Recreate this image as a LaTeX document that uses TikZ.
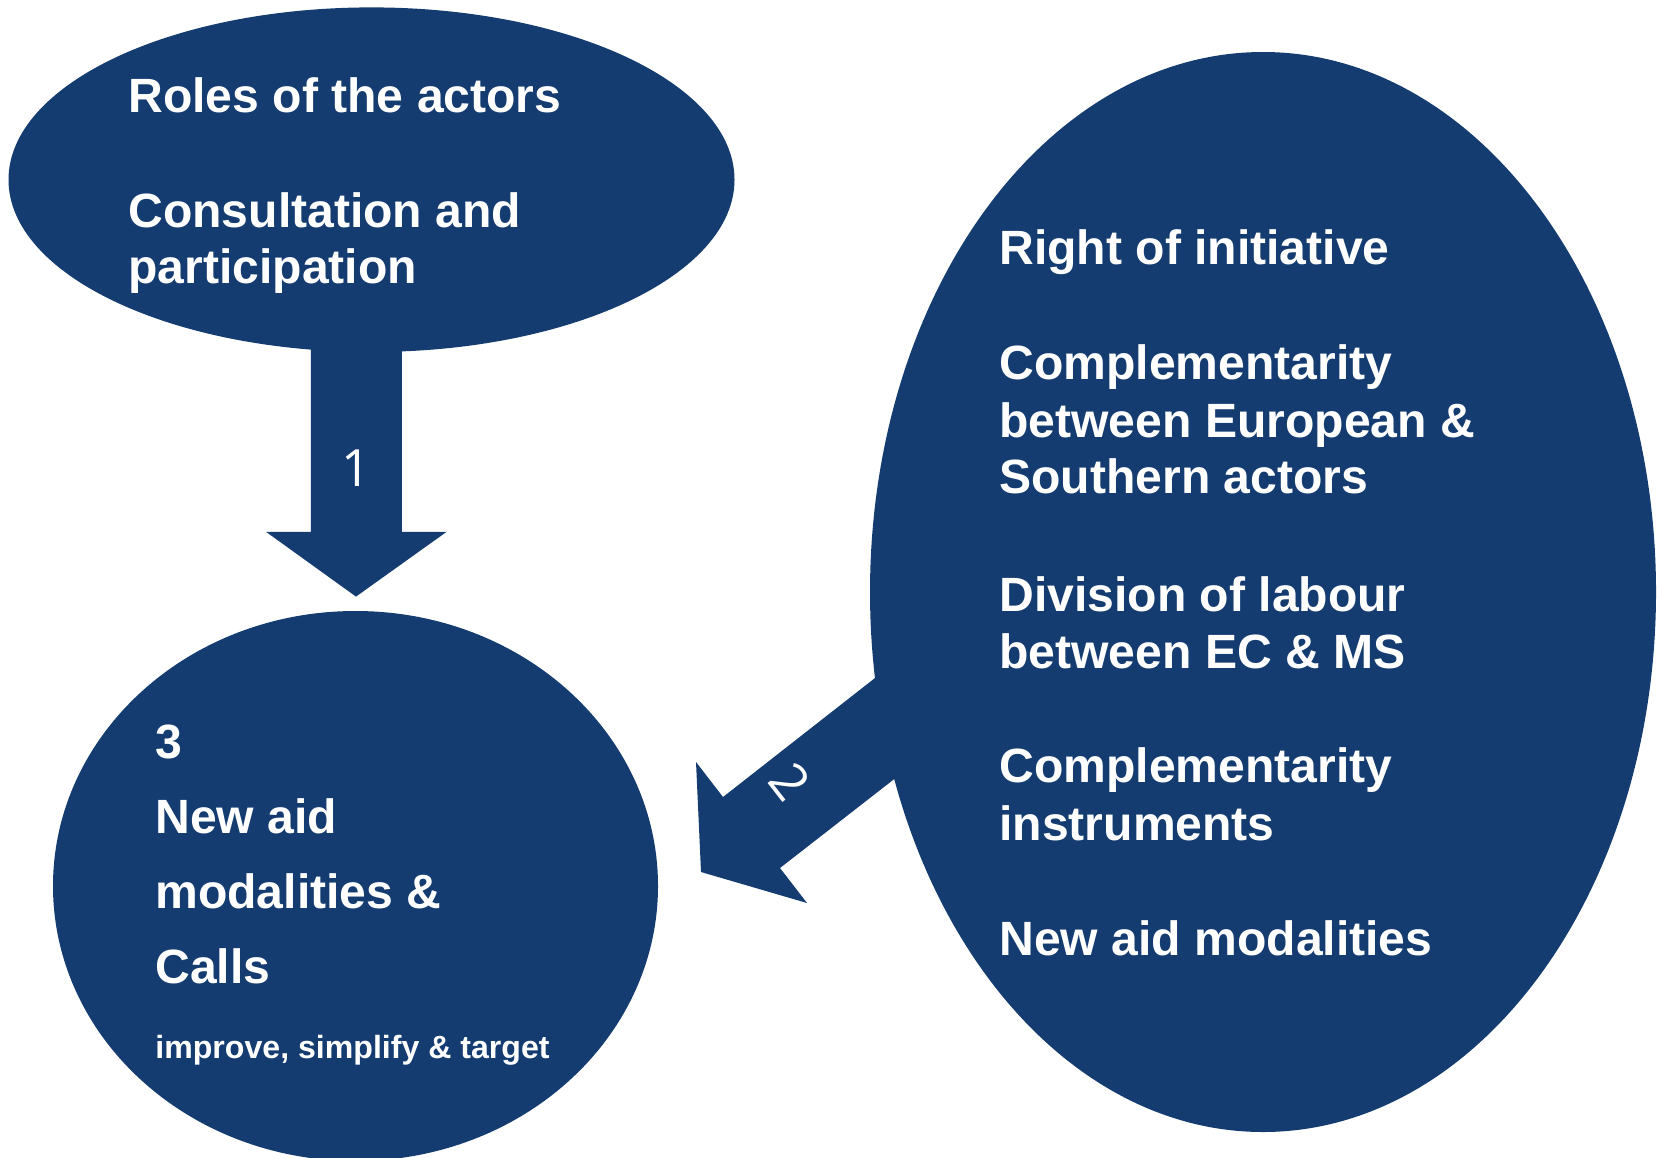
\documentclass[tikz,border=0pt]{standalone}
\usepackage{xcolor}
\usepackage{fontspec}
\setmainfont{Liberation Sans}
\newfontfamily\numfont{Open Sans}
\usepackage{tikz}

\definecolor{navy}{RGB}{20,60,112}

\tikzset{
	blob/.style={fill=navy, draw=none},
	lbl/.style={anchor=base west, inner sep=0pt, text=white, font=\bfseries\fontsize{24.05}{28}\selectfont},
	small lbl/.style={lbl, font=\bfseries\fontsize{16.05}{19}\selectfont},
	num/.style={inner sep=0pt, text=white, font=\numfont\fontsize{25.7}{30}\selectfont}
}

\begin{document}
\begin{tikzpicture}
	\useasboundingbox (0pt, 0pt) rectangle (828.5pt, -578.5pt);
	% the three blobs
	\fill[blob] (185.75pt, -89.85pt) ellipse [x radius=181.5pt, y radius=86.15pt];
	\fill[blob] (631.5pt, -296pt) ellipse [x radius=196.5pt, y radius=270pt];
	\fill[blob] (177.75pt, -443pt) ellipse [x radius=151.25pt, y radius=137.5pt];
	% arrow 1, down
	\fill[blob] (155.4pt, -150pt) -- (155.4pt, -265.9pt) -- (133pt, -265.9pt) -- (178pt, -298.3pt)
		-- (223.3pt, -265.9pt) -- (200.9pt, -265.9pt) -- (200.9pt, -150pt) -- cycle;
	% arrow 2, down left
	\fill[blob] (460.5pt, -321pt) -- (437.5pt, -339pt) -- (361.5pt, -398.5pt) -- (348pt, -381pt)
		-- (350.5pt, -436pt) -- (403.5pt, -451.5pt) -- (390pt, -434pt) -- (446.5pt, -390pt)
		-- (469.5pt, -372pt) -- cycle;
	\node[num] (one) at (178pt, -234pt) {1};
	\node[num, rotate=-52] (two) at (395pt, -391pt) {2};
	% top left
	\node[lbl] (roles) at (64pt, -56pt) {Roles of the actors};
	\node[lbl] (consult) at (64pt, -113.5pt) {Consultation and};
	\node[lbl] (partic) at (64pt, -141.5pt) {participation};
	% right
	\node[lbl] (right) at (499.5pt, -132pt) {Right of initiative};
	\node[lbl] (compl) at (499.5pt, -189.5pt) {Complementarity};
	\node[lbl] (europ) at (499.5pt, -218.5pt) {between European \&};
	\node[lbl] (south) at (499.5pt, -246.5pt) {Southern actors};
	\node[lbl] (divis) at (499.5pt, -305.5pt) {Division of labour};
	\node[lbl] (ecms) at (499.5pt, -334pt) {between EC \& MS};
	\node[lbl] (complb) at (499.5pt, -391pt) {Complementarity};
	\node[lbl] (instr) at (499.5pt, -420pt) {instruments};
	\node[lbl] (newaid) at (499.5pt, -477.5pt) {New aid modalities};
	% bottom left
	\node[lbl] (three) at (77.5pt, -379pt) {3};
	\node[lbl] (aid) at (77.5pt, -416.5pt) {New aid};
	\node[lbl] (modal) at (77.5pt, -454pt) {modalities \&};
	\node[lbl] (calls) at (77.5pt, -491.5pt) {Calls};
	\node[small lbl] (improve) at (77.5pt, -529pt) {improve, simplify \& target};
\end{tikzpicture}
\end{document}
